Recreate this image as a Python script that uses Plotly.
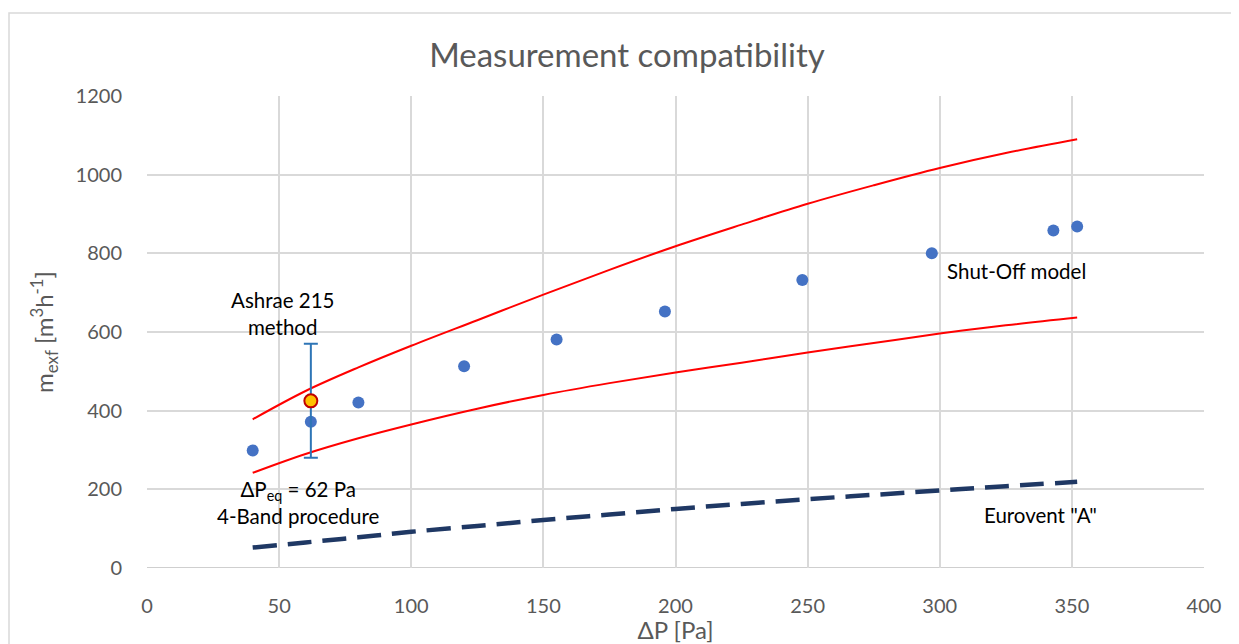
import plotly.graph_objects as go

# Measured points (Shut-Off model)
meas_x = [40, 62, 80, 120, 155, 196, 248, 297, 343, 352]
meas_y = [299, 372, 421, 513, 581, 652, 732, 800, 858, 868]

# Confidence band curves
curve_x = [40, 60, 80, 100, 125, 150, 175, 200, 225, 250, 275, 300, 325, 352]
upper_y = [378, 450, 510, 565, 630, 695, 758, 818, 873, 926, 973, 1017, 1055, 1090]
lower_y = [242, 290, 330, 365, 405, 440, 470, 497, 522, 548, 572, 596, 617, 637]
eurovent_y = [52, 65, 78, 92, 107, 122, 136, 150, 163, 175, 186, 197, 208, 219]

# Ashrae 215 point with uncertainty
ashrae_x = [62]
ashrae_y = [425]
ashrae_err = [145]

FONT = "Lato"
W, H = 1231, 636
L, R, T, B = 139, 35, 88, 76
PW, PH = W - L - R, H - T - B

fig = go.Figure()

fig.add_trace(go.Scatter(x=curve_x, y=upper_y, mode="lines", line=dict(color="#FF0000", width=2, shape="spline"), showlegend=False))
fig.add_trace(go.Scatter(x=curve_x, y=lower_y, mode="lines", line=dict(color="#FF0000", width=2, shape="spline"), showlegend=False))
fig.add_trace(go.Scatter(x=curve_x, y=eurovent_y, mode="lines", line=dict(color="#1F3864", width=4.5, dash="24px,11px", shape="spline"), showlegend=False))
fig.add_trace(go.Scatter(x=meas_x, y=meas_y, mode="markers", marker=dict(color="#4472C4", size=12), showlegend=False))
fig.add_trace(go.Scatter(x=ashrae_x, y=ashrae_y, mode="markers",
                         marker=dict(color="#FFC000", size=13, line=dict(color="#C00000", width=2)),
                         error_y=dict(type="data", array=ashrae_err, color="#2E75B6", thickness=2, width=7),
                         showlegend=False))

ann_font = dict(family=FONT, size=20.5, color="#000000")
fig.add_annotation(x=51.2, y=648, text="Ashrae 215<br>method", showarrow=False, font=ann_font)
fig.add_annotation(x=57.3, y=166, text="ΔP<sub>eq</sub> = 62 Pa<br>4-Band procedure", showarrow=False, font=ann_font)
fig.add_annotation(x=328.9, y=755, text="Shut-Off model", showarrow=False, font=ann_font)
fig.add_annotation(x=338, y=135, text="Eurovent \"A\"", showarrow=False, font=ann_font)

# outer chart border
fig.add_shape(type="rect", xref="paper", yref="paper",
              x0=(1 - L) / PW, x1=(1229 - L) / PW, y0=-0.5, y1=(T + PH - 5) / PH,
              line=dict(color="#D9D9D9", width=1.5), layer="below")

fig.update_layout(
    width=W, height=H,
    margin=dict(l=L, r=R, t=T, b=B, autoexpand=False),
    paper_bgcolor="white", plot_bgcolor="white",
    title=dict(text="Measurement compatibility", x=(627 - 8) / W, xanchor="center", y=1 - 47 / H, yanchor="middle",
               font=dict(family=FONT, size=33, color="#595959")),
    font=dict(family=FONT, color="#595959"),
    xaxis=dict(range=[0, 400], dtick=50, showgrid=True, gridcolor="#D9D9D9", gridwidth=1.5,
               zeroline=False, showline=False, ticks="outside", ticklen=20, tickcolor="rgba(0,0,0,0)",
               automargin=False,
               tickfont=dict(size=20, color="#595959"),
               title=dict(text="ΔP [Pa]", font=dict(size=24, color="#595959"), standoff=10)),
    yaxis=dict(range=[0, 1200], dtick=200, showgrid=True, gridcolor="#D9D9D9", gridwidth=1.5,
               zeroline=False, showline=False, ticks="outside", ticklen=20, tickcolor="rgba(0,0,0,0)",
               automargin=False,
               tickfont=dict(size=20, color="#595959"),
               title=dict(text="m<sub>exf</sub> [m<sup>3</sup>h<sup>-1</sup>]", font=dict(size=24, color="#595959"), standoff=15)),
)
fig.add_shape(type="line", xref="x", yref="y", x0=0, x1=400, y0=0, y1=0, line=dict(color="#BFBFBF", width=1.5), layer="below")

fig.write_html("out.html")
